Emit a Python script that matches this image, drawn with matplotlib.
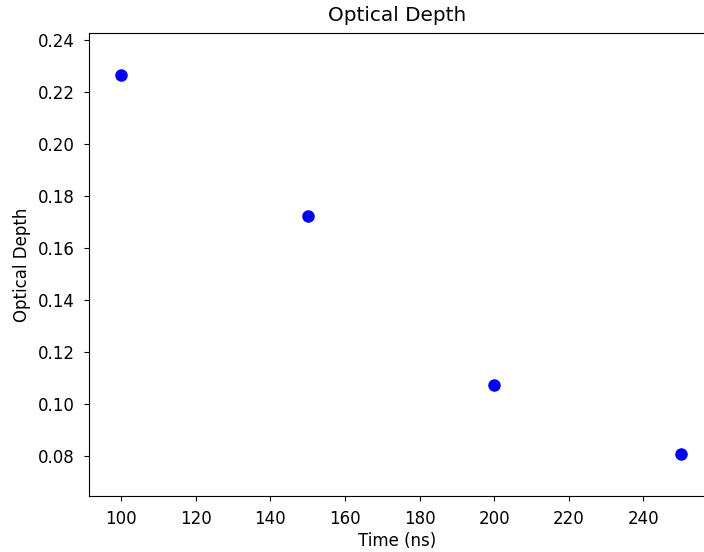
import matplotlib
matplotlib.use('Agg')
from matplotlib import pyplot as plt

time_ns = [100, 150, 200, 250]
optical_depth = [0.2265, 0.1722, 0.1074, 0.0808]

plt.rcParams['font.size'] = 12

fig = plt.figure(figsize=(7.04, 5.52), dpi=100)
ax = fig.add_axes([89 / 704, 56 / 552, 616 / 704, 463 / 552])
ax.plot(time_ns, optical_depth, 'o', color='blue', markersize=8)
ax.set_title("Optical Depth", pad=8.5)
ax.set_xlabel("Time (ns)", labelpad=3)
ax.set_ylabel("Optical Depth", labelpad=5)
ax.tick_params(axis='both', pad=6.5)
ax.set_xlim(91.4, 256.5)
ax.set_ylim(0.0647, 0.2427)
ax.set_xticks(range(100, 260, 20))
fig.savefig('out.png', dpi=100)
